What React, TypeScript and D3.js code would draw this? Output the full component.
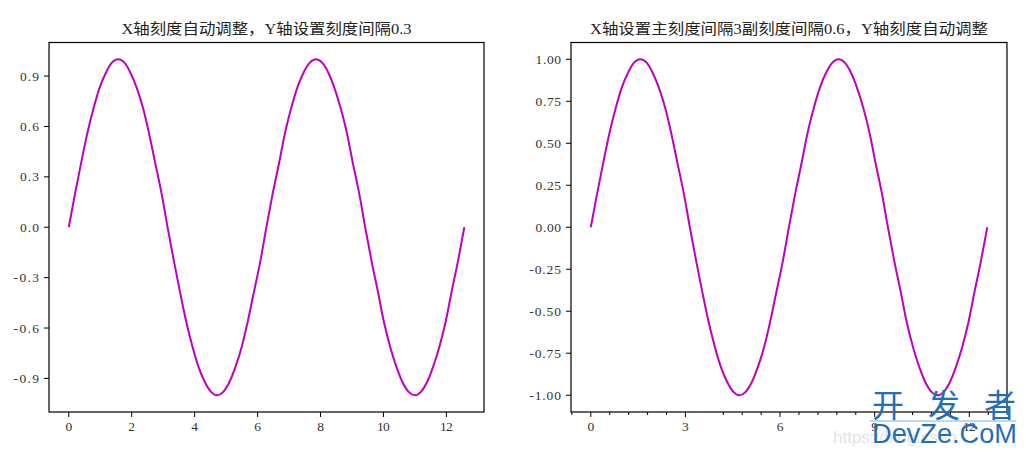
import React from "react";
import * as d3 from "d3";

const xs = [0, 0.2, 0.39, 0.59, 0.79, 0.98, 1.18, 1.37, 1.57, 1.77, 1.96, 2.16, 2.36, 2.55, 2.75, 2.95, 3.14, 3.34, 3.53, 3.73, 3.93, 4.12, 4.32, 4.52, 4.71, 4.91, 5.11, 5.3, 5.5, 5.69, 5.89, 6.09, 6.28, 6.48, 6.68, 6.87, 7.07, 7.26, 7.46, 7.66, 7.85, 8.05, 8.25, 8.44, 8.64, 8.84, 9.03, 9.23, 9.42, 9.62, 9.82, 10.01, 10.21, 10.41, 10.6, 10.8, 11.0, 11.19, 11.39, 11.58, 11.78, 11.98, 12.17, 12.37, 12.57];
const ys = [0, 0.2, 0.38, 0.56, 0.71, 0.83, 0.92, 0.98, 1.0, 0.98, 0.92, 0.83, 0.71, 0.56, 0.38, 0.2, 0, -0.2, -0.38, -0.56, -0.71, -0.83, -0.92, -0.98, -1.0, -0.98, -0.92, -0.83, -0.71, -0.56, -0.38, -0.2, 0, 0.2, 0.38, 0.56, 0.71, 0.83, 0.92, 0.98, 1.0, 0.98, 0.92, 0.83, 0.71, 0.56, 0.38, 0.2, 0, -0.2, -0.38, -0.56, -0.71, -0.83, -0.92, -0.98, -1.0, -0.98, -0.92, -0.83, -0.71, -0.56, -0.38, -0.2, 0];

const leftTitle = "X轴刻度自动调整，Y轴设置刻度间隔0.3";
const rightTitle = "X轴设置主刻度间隔3副刻度间隔0.6，Y轴刻度自动调整";
const leftXTicks = [0, 2, 4, 6, 8, 10, 12];
const leftYTicks = [-0.9, -0.6, -0.3, 0.0, 0.3, 0.6, 0.9];
const rightXTicks = [0, 3, 6, 9, 12];
const rightXMinor = [-0.6, 0.6, 1.2, 1.8, 2.4, 4.2, 4.8, 5.4, 6.6, 7.2, 7.8, 8.4, 9.6, 10.2, 10.8, 11.4, 12.6, 13.2];
const rightYTicks = [-1.0, -0.75, -0.5, -0.25, 0.0, 0.25, 0.5, 0.75, 1.0];

const xDomain: [number, number] = [-0.628, 13.195];
const yDomain: [number, number] = [-1.1, 1.1];
const TOP = 42.5;
const BOTTOM = 412;
const CW = 6.35;
const LINE = "#bf00bf";
const tickFont = "'Liberation Serif', 'DejaVu Serif', serif";
const titleFont = "'Liberation Serif', 'Noto Sans CJK SC', serif";

type PanelProps = {
  left: number;
  right: number;
  title: string;
  titleWidth: number;
  xTicks: number[];
  xMinor: number[];
  yTicks: number[];
  yFmt: (v: number) => string;
};

function Panel({ left, right, title, titleWidth, xTicks, xMinor, yTicks, yFmt }: PanelProps) {
  const x = d3.scaleLinear().domain(xDomain).range([left, right]);
  const y = d3.scaleLinear().domain(yDomain).range([BOTTOM, TOP]);
  const line = d3
    .line<number>()
    .x((_, i) => x(xs[i]))
    .y((d) => y(d))
    .curve(d3.curveMonotoneX);
  const cx = (left + right) / 2;
  return (
    <g>
      <text
        x={cx}
        y={34}
        textAnchor="middle"
        fontFamily={titleFont}
        fontSize={15}
        fill="#222"
        textLength={titleWidth}
        lengthAdjust="spacingAndGlyphs"
      >
        {title}
      </text>
      <path d={line(ys) || ""} fill="none" stroke={LINE} strokeWidth={2} />
      <rect x={left} y={TOP} width={right - left} height={BOTTOM - TOP} fill="none" stroke="#000" strokeWidth={1.2} />
      {xTicks.map((t) => {
        const s = String(t);
        return (
          <g key={"x" + t}>
            <line x1={x(t)} x2={x(t)} y1={BOTTOM} y2={BOTTOM + 5} stroke="#000" strokeWidth={1} />
            <text
              x={x(t)}
              y={431}
              textAnchor="middle"
              fontFamily={tickFont}
              fontSize={13.5}
              fill="#333"
              textLength={s.length * CW}
              lengthAdjust="spacing"
            >
              {s}
            </text>
          </g>
        );
      })}
      {xMinor.map((t) => (
        <line key={"m" + t} x1={x(t)} x2={x(t)} y1={BOTTOM} y2={BOTTOM + 3} stroke="#000" strokeWidth={1} />
      ))}
      {yTicks.map((t) => {
        const s = yFmt(t);
        return (
          <g key={"y" + t}>
            <line x1={left - 5} x2={left} y1={y(t)} y2={y(t)} stroke="#000" strokeWidth={1} />
            <text
              x={left - 10}
              y={y(t) + 4.5}
              textAnchor="end"
              fontFamily={tickFont}
              fontSize={13.5}
              fill="#333"
              textLength={s.length * CW}
              lengthAdjust="spacing"
            >
              {s}
            </text>
          </g>
        );
      })}
    </g>
  );
}

export default function App() {
  return (
    <svg width={1028} height={455} style={{ position: "absolute", left: 0, top: 0, background: "#fff" }}>
      <rect x={0} y={0} width={1028} height={455} fill="#fff" />
      <Panel
        left={49}
        right={484}
        title={leftTitle}
        titleWidth={290}
        xTicks={leftXTicks}
        xMinor={[]}
        yTicks={leftYTicks}
        yFmt={(v) => (v === 0 ? "0.0" : v.toFixed(1))}
      />
      <Panel
        left={571}
        right={1007}
        title={rightTitle}
        titleWidth={398}
        xTicks={rightXTicks}
        xMinor={rightXMinor}
        yTicks={rightYTicks}
        yFmt={(v) => (v === 0 ? "0.00" : v.toFixed(2))}
      />
      <text x={833} y={443} fontFamily="'Liberation Sans', sans-serif" fontSize={17} fill="#e4e4e4">
        https://blog.csdn
      </text>
      <text
        x={872}
        y={417}
        fontFamily="'Noto Sans CJK SC', sans-serif"
        fontSize={32}
        fill="#1f6fb8"
        textLength={144}
        lengthAdjust="spacing"
      >
        开发者
      </text>
      <line x1={870} x2={1016} y1={421} y2={421} stroke="#7fb2e0" strokeWidth={1} />
      <text
        x={872}
        y={443}
        fontFamily="'Liberation Sans', sans-serif"
        fontSize={28}
        fill="#1f6fb8"
        textLength={145}
        lengthAdjust="spacingAndGlyphs"
      >
        DevZe.CoM
      </text>
    </svg>
  );
}
